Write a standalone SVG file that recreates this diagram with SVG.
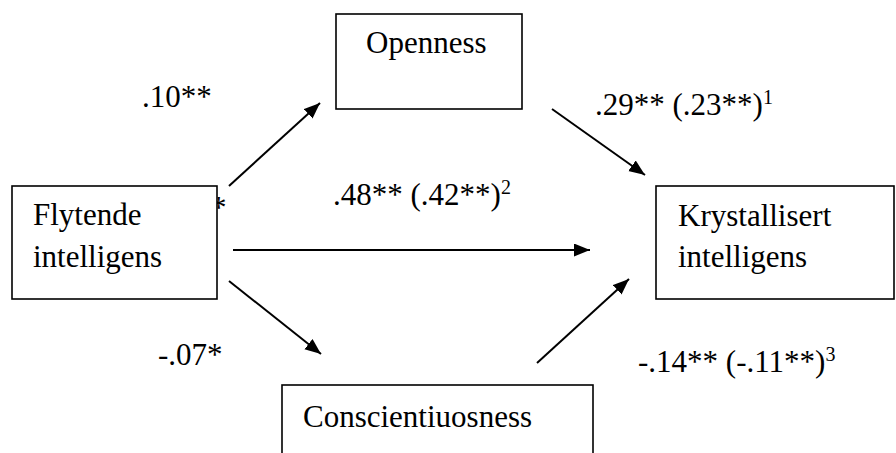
<svg xmlns="http://www.w3.org/2000/svg" width="896" height="453" viewBox="0 0 896 453">
<style>
text { font-family: "Liberation Serif", "Times New Roman", serif; font-size: 31px; fill: #000; }
.sup { font-size: 20px; }
.box { fill: #fff; stroke: #000; stroke-width: 1.6; }
.conn { stroke: #000; stroke-width: 2; fill: none; marker-end: url(#arr); }
</style>
<defs>
<marker id="arr" markerUnits="userSpaceOnUse" markerWidth="18" markerHeight="14" refX="16" refY="6.5" orient="auto">
<path d="M0,0 L16,6.5 L0,13 z" fill="#000"/>
</marker>
</defs>
<rect width="896" height="453" fill="#fff"/>
<g id="labels">
<text x="142" y="107">.10**</text>
<text x="211" y="218">*</text>
<text x="333" y="205">.48** (.42**)<tspan class="sup" dy="-11">2</tspan></text>
<text x="595" y="115">.29** (.23**)<tspan class="sup" dy="-11">1</tspan></text>
<text x="158" y="365">-.07*</text>
<text x="638" y="372">-.14** (-.11**)<tspan class="sup" dy="-11">3</tspan></text>
</g>
<g id="connectors">
<line class="conn" x1="229" y1="186" x2="320" y2="103"/>
<line class="conn" x1="233" y1="250" x2="590" y2="250"/>
<line class="conn" x1="229" y1="281" x2="321" y2="354"/>
<line class="conn" x1="552" y1="109" x2="645" y2="175"/>
<line class="conn" x1="537" y1="363" x2="629" y2="279"/>
</g>
<g id="flytende">
<rect class="box" x="12" y="186" width="205" height="113"/>
<text x="33" y="225">Flytende</text>
<text x="33" y="267">intelligens</text>
</g>
<g id="openness">
<rect class="box" x="336" y="14" width="186" height="95"/>
<text x="366" y="53">Openness</text>
</g>
<g id="krystallisert">
<rect class="box" x="656" y="186" width="238" height="113"/>
<text x="678" y="226">Krystallisert</text>
<text x="678" y="267">intelligens</text>
</g>
<g id="conscientiousness">
<rect class="box" x="282" y="385" width="311" height="90"/>
<text x="303" y="427">Conscientiuosness</text>
</g>
</svg>
